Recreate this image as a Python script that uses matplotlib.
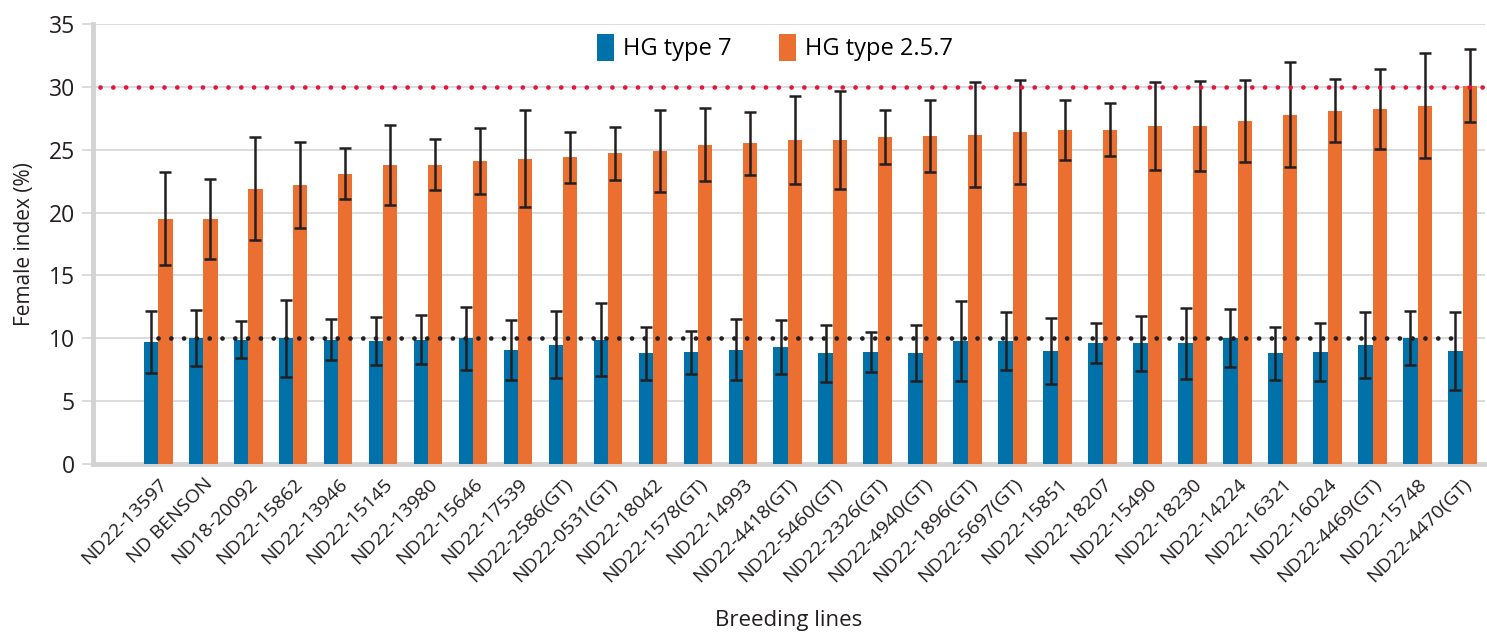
import numpy as np
import matplotlib
matplotlib.use("Agg")
import matplotlib.pyplot as plt

plt.rcParams['font.family'] = ['Open Sans', 'DejaVu Sans']

lines = ["ND22-13597", "ND BENSON", "ND18-20092", "ND22-15862", "ND22-13946",
         "ND22-15145", "ND22-13980", "ND22-15646", "ND22-17539", "ND22-2586(GT)",
         "ND22-0531(GT)", "ND22-18042", "ND22-1578(GT)", "ND22-14993", "ND22-4418(GT)",
         "ND22-5460(GT)", "ND22-2326(GT)", "ND22-4940(GT)", "ND22-1896(GT)", "ND22-5697(GT)",
         "ND22-15851", "ND22-18207", "ND22-15490", "ND22-18230", "ND22-14224",
         "ND22-16321", "ND22-16024", "ND22-4469(GT)", "ND22-15748", "ND22-4470(GT)"]

hg7 = [9.7, 10.0, 9.9, 10.0, 9.9, 9.8, 9.9, 10.0, 9.1, 9.5,
       9.9, 8.8, 8.9, 9.1, 9.3, 8.8, 8.9, 8.8, 9.8, 9.8,
       9.0, 9.6, 9.6, 9.6, 10.0, 8.8, 8.9, 9.5, 10.0, 9.0]
hg7_err = [2.47, 2.24, 1.49, 3.08, 1.62, 1.92, 1.98, 2.52, 2.39, 2.68,
           2.89, 2.11, 1.71, 2.40, 2.12, 2.27, 1.60, 2.23, 3.20, 2.30,
           2.64, 1.60, 2.18, 2.80, 2.30, 2.11, 2.29, 2.63, 2.14, 3.12]

hg257 = [19.5, 19.5, 21.9, 22.2, 23.1, 23.8, 23.8, 24.1, 24.3, 24.4,
         24.7, 24.9, 25.4, 25.5, 25.8, 25.8, 26.0, 26.1, 26.2, 26.4,
         26.6, 26.6, 26.9, 26.9, 27.3, 27.8, 28.1, 28.2, 28.5, 30.1]
hg257_err = [3.70, 3.18, 4.08, 3.39, 2.05, 3.17, 2.04, 2.62, 3.88, 2.03,
             2.12, 3.29, 2.92, 2.50, 3.50, 3.89, 2.13, 2.89, 4.15, 4.13,
             2.39, 2.13, 3.52, 3.60, 3.26, 4.20, 2.52, 3.18, 4.19, 2.88]

upper_limit = 30
lower_limit = 10

blue = "#0071a9"
orange = "#eb6f31"
ink = "#231f20"

x = np.arange(len(lines))
w = 0.32

fig = plt.figure(figsize=(14.87, 6.36), dpi=100)
ax = fig.add_axes([0.0625, 0.2704, 0.9362, 0.6919])

err_kw = dict(ecolor=ink, elinewidth=1.8, capsize=4.5, capthick=1.8)
ax.bar(x - w / 2, hg7, w, color=blue, label="HG type 7", yerr=hg7_err,
       error_kw=err_kw, zorder=3)
ax.bar(x + w / 2, hg257, w, color=orange, label="HG type 2.5.7", yerr=hg257_err,
       error_kw=err_kw, zorder=3)

# threshold lines
ax.plot([-1.3, 29.6], [upper_limit, upper_limit], linestyle=(0, (0.01, 2.7)),
        color="#e3173e", linewidth=3.4, dash_capstyle="round", zorder=4)
ax.plot([0, 29], [lower_limit, lower_limit], linestyle=(0, (0.01, 2.7)),
        color=ink, linewidth=3.4, dash_capstyle="round", zorder=4)

ax.set_xlim(-1.45, 29.5)
ax.set_ylim(0, 35)
ax.set_yticks(range(0, 36, 5))
ax.yaxis.grid(True, color="#d9d9d9", linewidth=1.3, zorder=0)
ax.set_axisbelow(True)

for side in ["top", "right"]:
    ax.spines[side].set_visible(False)
for side in ["left", "bottom"]:
    ax.spines[side].set_color("#d3d3d3")
    ax.spines[side].set_linewidth(3.5)

ax.tick_params(axis="y", length=8, width=1.3, color="#d9d9d9", labelsize=16.5,
               labelcolor=ink, pad=5)
ax.tick_params(axis="x", length=0, labelsize=14, labelcolor=ink, pad=8)
ax.set_xticks(x)
ax.set_xticklabels(lines, rotation=45, ha="right", rotation_mode="anchor")

ax.set_ylabel("Female index (%)", fontsize=15, color=ink, labelpad=10)
ax.set_xlabel("Breeding lines", fontsize=16, color=ink, labelpad=17)

ax.legend(loc="upper center", bbox_to_anchor=(0.49, 1.005), ncol=2, frameon=False,
          fontsize=17, handlelength=0.7, handleheight=1.4, handletextpad=0.4,
          columnspacing=2.0, borderaxespad=0.1)

fig.savefig("out.png", dpi=100)
